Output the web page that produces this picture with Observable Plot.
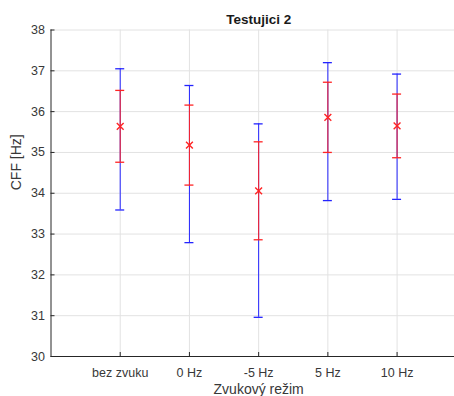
<!DOCTYPE html>
<html>
<head>
<meta charset="utf-8">
<script src="https://cdn.jsdelivr.net/npm/d3@7"></script>
<script src="https://cdn.jsdelivr.net/npm/@observablehq/plot@0.6"></script>
<style>
  html, body { margin: 0; padding: 0; background: #fff; overflow: hidden; }
  #chart svg { overflow: hidden; }
</style>
</head>
<body>
<div id="chart"></div>
<script>
const categories = ["bez zvuku", "0 Hz", "-5 Hz", "5 Hz", "10 Hz"];
const means = [35.64, 35.18, 34.06, 35.86, 35.65];
const sds   = [0.88, 0.98, 1.20, 0.86, 0.78];
const mins  = [33.59, 32.79, 30.96, 33.82, 33.85];
const maxs  = [37.05, 36.64, 35.70, 37.20, 36.92];
const yTicks = [30, 31, 32, 33, 34, 35, 36, 37, 38];
const xTicks = [1, 2, 3, 4, 5];
const title = "Testujici 2";
const xLabel = "Zvukový režim";
const yLabel = "CFF [Hz]";

const rows = categories.map((c, k) => ({
  i: k + 1, cat: c, mean: means[k], lo: means[k] - sds[k], hi: means[k] + sds[k],
  min: mins[k], max: maxs[k]
}));

const blue = "#2424ff";
const red = "#ff2424";
const grid = "#e2e2e2";
const axisCol = "#262626";

const chart = Plot.plot({
  width: 454,
  height: 396,
  marginLeft: 50.5,
  marginRight: -11.8,
  marginTop: 29.5,
  marginBottom: 40,
  style: { fontFamily: "'Liberation Sans', Arial, sans-serif", color: "#383838", background: "#fff" },
  x: { type: "linear", domain: [0, 6] },
  y: { domain: [30, 38] },
  marks: [
    Plot.gridY(yTicks, { stroke: grid, strokeOpacity: 1 }),
    Plot.gridX(xTicks, { stroke: grid, strokeOpacity: 1 }),
    // axis lines
    Plot.ruleX([0], { stroke: axisCol }),
    Plot.ruleY([30], { stroke: axisCol }),
    // inward ticks
    Plot.ruleY(yTicks, { x1: 0, x2: 0, insetRight: -4, stroke: axisCol }),
    Plot.ruleX(xTicks, { y1: 30, y2: 30, insetTop: -4, stroke: axisCol }),
    // range (blue)
    Plot.ruleX(rows, { x: "i", y1: "min", y2: "max", stroke: blue }),
    Plot.ruleY(rows, { x1: "i", x2: "i", y: "max", insetLeft: -4.5, insetRight: -4.5, stroke: blue, strokeWidth: 1.3 }),
    Plot.ruleY(rows, { x1: "i", x2: "i", y: "min", insetLeft: -4.5, insetRight: -4.5, stroke: blue, strokeWidth: 1.3 }),
    // mean ± sd (red)
    Plot.ruleX(rows, { x: "i", y1: "lo", y2: "hi", stroke: red }),
    Plot.ruleY(rows, { x1: "i", x2: "i", y: "hi", insetLeft: -4.5, insetRight: -4.5, stroke: red, strokeWidth: 1.3 }),
    Plot.ruleY(rows, { x1: "i", x2: "i", y: "lo", insetLeft: -4.5, insetRight: -4.5, stroke: red, strokeWidth: 1.3 }),
    Plot.dot(rows, { x: "i", y: "mean", symbol: "times", r: 3.2, stroke: red, strokeWidth: 1.4 }),
    // axes labels
    Plot.axisY(yTicks, { tickSize: 0, tickPadding: 6, fontSize: 12.5, label: null }),
    Plot.axisX(xTicks, { tickSize: 0, tickPadding: 12, fontSize: 12.5, label: null, tickFormat: d => categories[d - 1] }),
    Plot.text([xLabel], { frameAnchor: "bottom", dy: 37, fontSize: 14 }),
    Plot.text([yLabel], { frameAnchor: "left", dx: -34, dy: -3, rotate: -90, fontSize: 14 }),
    Plot.text([title], { frameAnchor: "top", dy: -16, fontSize: 13.5, fontWeight: "bold", fill: "#1a1a1a" })
  ]
});
document.getElementById("chart").appendChild(chart);
</script>
</body>
</html>
